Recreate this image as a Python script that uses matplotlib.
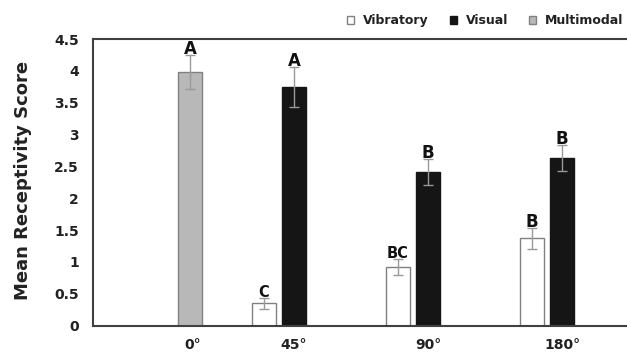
import matplotlib.pyplot as plt
import numpy as np

categories = ['0°', '45°', '90°', '180°']
vibratory = [np.nan, 0.35, 0.92, 1.37]
vibratory_err = [np.nan, 0.09, 0.13, 0.17]
visual = [np.nan, 3.75, 2.41, 2.63]
visual_err = [np.nan, 0.31, 0.21, 0.21]
multimodal = [3.98, np.nan, np.nan, np.nan]
multimodal_err = [0.27, np.nan, np.nan, np.nan]
vibratory_letters = ['', 'C', 'BC', 'B']
visual_letters = ['', 'A', 'B', 'B']
multimodal_letters = ['A', '', '', '']


def main():
    plt.rcParams['font.family'] = 'DejaVu Sans'
    plt.rcParams['font.weight'] = 'bold'

    fig = plt.figure(figsize=(6.27, 3.54), dpi=100)
    ax = fig.add_axes([0.1483, 0.0802, 0.8517, 0.8096])

    x = np.arange(len(categories))
    width = 0.18
    offset = 0.224
    err_kw = dict(ecolor='#999999', elinewidth=1.0, capsize=3.5, capthick=1.0)

    series = [
        (vibratory, vibratory_err, vibratory_letters, -offset, 'white', '#808080', 'Vibratory'),
        (visual, visual_err, visual_letters, 0.0, '#151515', '#151515', 'Visual'),
        (multimodal, multimodal_err, multimodal_letters, offset, '#b8b8b8', '#808080', 'Multimodal'),
    ]
    for vals, errs, letters, off, face, edge, name in series:
        ax.bar(x + off, vals, width, yerr=errs, color=face, edgecolor=edge,
               linewidth=1.0, label=name, error_kw=err_kw)
        for xi, v, e, lab in zip(x + off, vals, errs, letters):
            if lab:
                size = 12 if lab in ('A', 'B') else 10.5
                ax.text(xi, v + e + 0.01, lab, ha='center', va='baseline',
                        fontsize=size, fontweight='bold', color='#111111')

    ax.set_xlim(-0.5, 3.485)
    ax.set_ylim(0, 4.5)
    ax.set_yticks(np.arange(0, 4.51, 0.5))
    ax.set_yticklabels(['0', '0.5', '1', '1.5', '2', '2.5', '3', '3.5', '4', '4.5'])
    tick_pos = [offset + 0.02, 1, 2, 3]
    ax.set_xticks(tick_pos)
    ax.set_xticklabels(categories)
    ax.tick_params(axis='both', length=0, labelsize=10, colors='#222222')
    ax.tick_params(axis='x', pad=9)
    ax.tick_params(axis='y', pad=10)
    for lab in ax.get_xticklabels() + ax.get_yticklabels():
        lab.set_fontweight('bold')

    for side in ['left', 'bottom', 'top']:
        ax.spines[side].set_color('#404040')
        ax.spines[side].set_linewidth(1.5)
    ax.spines['right'].set_visible(False)

    fig.text(0.037, 0.49, 'Mean Receptivity Score', rotation=90, ha='center',
             va='center', fontsize=13, fontweight='bold', color='#222222')

    leg = fig.legend(loc='center right', bbox_to_anchor=(0.994, 0.941), ncol=3,
                     frameon=False, fontsize=9, handlelength=0.56, handleheight=0.56,
                     handletextpad=0.7, columnspacing=1.7, borderpad=0,
                     borderaxespad=0)
    for t in leg.get_texts():
        t.set_fontweight('bold')
        t.set_color('#222222')

    fig.savefig('out.png', dpi=100)


if __name__ == "__main__":
    main()
